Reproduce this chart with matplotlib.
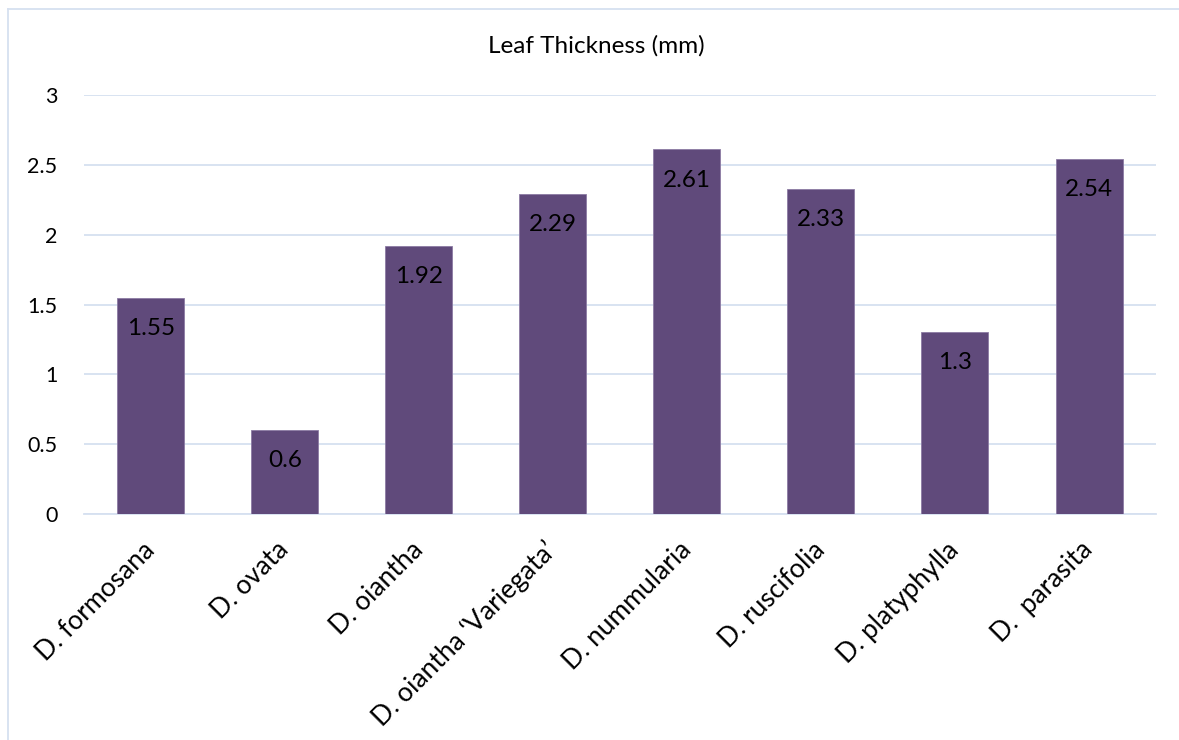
import matplotlib.pyplot as plt
from matplotlib.lines import Line2D

species = [
    "D. formosana",
    "D. ovata",
    "D. oiantha",
    "D. oiantha \u2018Variegata\u2019",
    "D. nummularia",
    "D. ruscifolia",
    "D. platyphylla",
    "D.  parasita",
]
thickness_mm = [1.55, 0.6, 1.92, 2.29, 2.61, 2.33, 1.3, 2.54]
y_ticks = [0, 0.5, 1, 1.5, 2, 2.5, 3]
y_tick_labels = ["0", "0.5", "1", "1.5", "2", "2.5", "3"]

BAR_COLOR = "#604A7B"
GRID_COLOR = "#D6E0F0"
FONT = "Lato"

fig = plt.figure(figsize=(11.79, 7.40), dpi=100)
ax = fig.add_axes([0.0712, 0.3054, 0.9093, 0.5662])

x = range(len(species))
bars = ax.bar(x, thickness_mm, width=0.5, color=BAR_COLOR,
              edgecolor="#8C7BA3", linewidth=0.6, zorder=3)

# value labels just inside the top of each bar
for rect, val in zip(bars, thickness_mm):
    ax.annotate(f"{val:g}", (rect.get_x() + rect.get_width() / 2, val),
                xytext=(0, -22), textcoords="offset points",
                ha="center", va="center", fontsize=17.5, family=FONT,
                color="black", zorder=4)

ax.set_xlim(-0.5, len(species) - 0.5)
ax.set_ylim(0, 3)
ax.set_yticks(y_ticks)
ax.set_yticklabels(y_tick_labels, family=FONT, fontsize=15.5)
ax.set_xticks(list(x))
ax.set_xticklabels(species, rotation=45, ha="right", va="center",
                   rotation_mode="anchor", family=FONT, fontsize=19)
ax.tick_params(axis="both", length=0)
ax.tick_params(axis="y", pad=19)
ax.tick_params(axis="x", pad=23)

ax.grid(axis="y", color=GRID_COLOR, linewidth=1.3, zorder=0)
for side in ["top", "right", "left"]:
    ax.spines[side].set_visible(False)
ax.spines["bottom"].set_color(GRID_COLOR)
ax.spines["bottom"].set_linewidth(1.3)

fig.text(0.506, 0.938, "Leaf Thickness (mm)", ha="center", va="center",
         family=FONT, fontsize=17.5)

# thin frame along the left and top edges
fig.add_artist(Line2D([8 / 1179, 8 / 1179], [0, 1 - 9 / 740],
                      transform=fig.transFigure, color=GRID_COLOR, linewidth=1.3))
fig.add_artist(Line2D([8 / 1179, 1], [1 - 9 / 740, 1 - 9 / 740],
                      transform=fig.transFigure, color=GRID_COLOR, linewidth=1.3))

fig.savefig("out.png", dpi=100)
